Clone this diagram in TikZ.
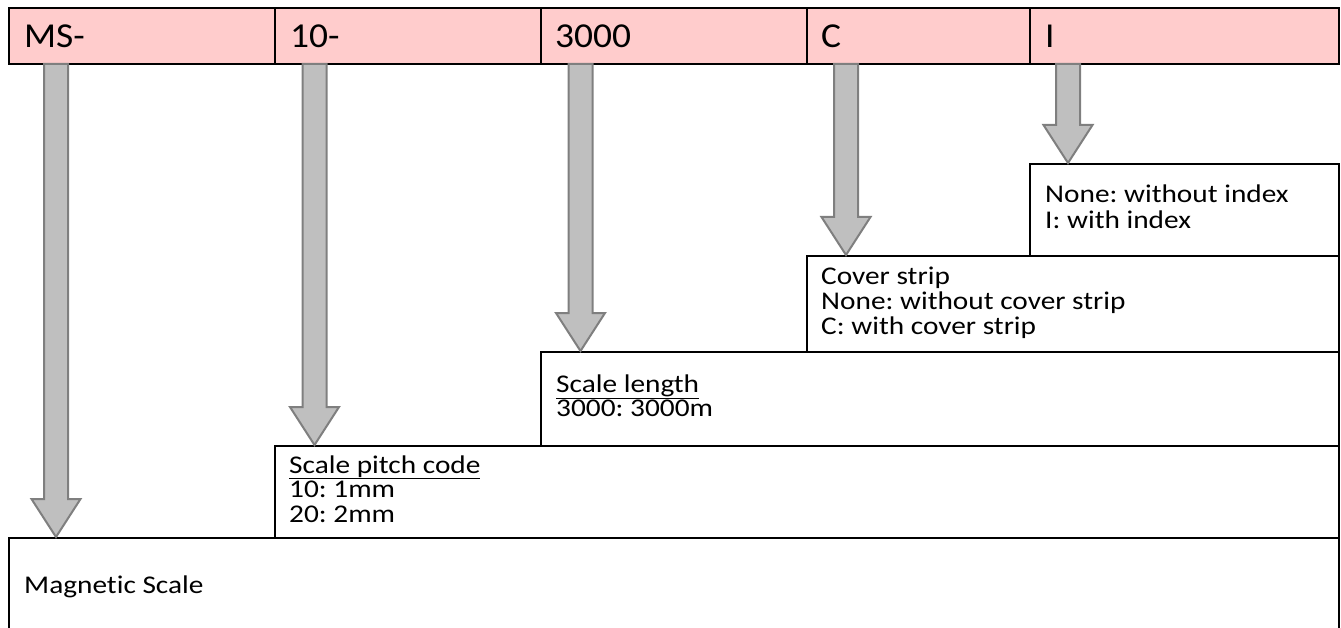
\documentclass[tikz,border=0pt]{standalone}
\usepackage{fontspec}
\setmainfont{Carlito}[FakeStretch=1.07, Ligatures=NoCommon]
\newfontfamily\bodyfont{Carlito}[FakeStretch=1.15, Ligatures=NoCommon]
\usetikzlibrary{calc}
\definecolor{barpink}{HTML}{FFCCCC}
\definecolor{arrfill}{HTML}{BFBFBF}
\definecolor{arrline}{HTML}{7F7F7F}
\tikzset{
  cellbox/.style={draw=black, line width=2pt, fill=barpink, anchor=north west, inner sep=0pt},
  infobox/.style={draw=black, line width=2pt, fill=white, anchor=north west, inner sep=0pt},
  bartext/.style={anchor=base west, inner sep=0pt, font=\fontsize{35}{40}\selectfont},
  bodytext/.style={anchor=base west, inner sep=0pt, font=\bodyfont\fontsize{25.5}{24.5}\selectfont},
  fatarr/.style={draw=arrline, fill=arrfill, line width=2pt, line join=miter}
}
\newcommand\fatarrow[2]{%
  \draw[fatarr] let \p1=(#1), \p2=(#2) in
    (\x1-12pt,\y1) -- (\x1-12pt,\y2+38pt) -- (\x1-24.5pt,\y2+38pt) -- (\x1,\y2)
    -- (\x1+24.5pt,\y2+38pt) -- (\x1+12pt,\y2+38pt) -- (\x1+12pt,\y1) -- cycle;}
\newcommand\lines[1]{\begin{tabular}[t]{@{}l@{}}#1\end{tabular}}
\frenchspacing
\begin{document}
\frenchspacing
\begin{tikzpicture}[x=1pt,y=-1pt]
\useasboundingbox (0,0) rectangle (1341,628);
% info boxes (bottom first)
\node[infobox, minimum width=1330pt, minimum height=110pt] (mag) at (8,537) {};
\node[infobox, minimum width=1064pt, minimum height=92pt] (pitch) at (274,445) {};
\node[infobox, minimum width=798pt, minimum height=94pt] (len) at (540,351) {};
\node[infobox, minimum width=532pt, minimum height=96pt] (cov) at (806,255) {};
\node[infobox, minimum width=309pt, minimum height=92pt] (idx) at (1029,163) {};
% top bar cells
\node[cellbox, minimum width=266pt, minimum height=56pt] (cMS) at (8,7) {};
\node[cellbox, minimum width=266pt, minimum height=56pt] (cP) at (274,7) {};
\node[cellbox, minimum width=266pt, minimum height=56pt] (cL) at (540,7) {};
\node[cellbox, minimum width=223pt, minimum height=56pt] (cC) at (806,7) {};
\node[cellbox, minimum width=309pt, minimum height=56pt] (cI) at (1029,7) {};
% bar texts
\node[bartext] (tMS) at (24,48) {MS-};
\node[bartext] (tP) at (290,48) {10-};
\node[bartext] (tL) at (555,48) {3000};
\node[bartext] (tC) at (821,48) {C};
\node[bartext] (tI) at (1045,48) {I};
% box texts
\node[bodytext] (xMag) at (24,593) {Magnetic Scale};
\node[bodytext] (xPitch) at (289,473) {\lines{\underline{Scale pitch code}\\10: 1mm\\20: 2mm}};
\node[bodytext] (xLen) at (556,392) {\lines{\underline{Scale length}\\3000: 3000m}};
\node[bodytext] (xCov) at (821,284) {\lines{Cover strip\\None: without cover strip\\C: with cover strip}};
\node[bodytext] (xIdx) at (1045,203) {\lines{None: without index\\I: with index}};
% arrow start points
\coordinate (aMS) at (56,64);
\coordinate (aP) at (314.5,64);
\coordinate (aL) at (580.5,64);
\coordinate (aC) at (846,64);
\coordinate (aI) at (1068,64);
\fatarrow{aMS}{aMS |- mag.north}
\fatarrow{aP}{aP |- pitch.north}
\fatarrow{aL}{aL |- len.north}
\fatarrow{aC}{aC |- cov.north}
\fatarrow{aI}{aI |- idx.north}
\end{tikzpicture}
\end{document}
